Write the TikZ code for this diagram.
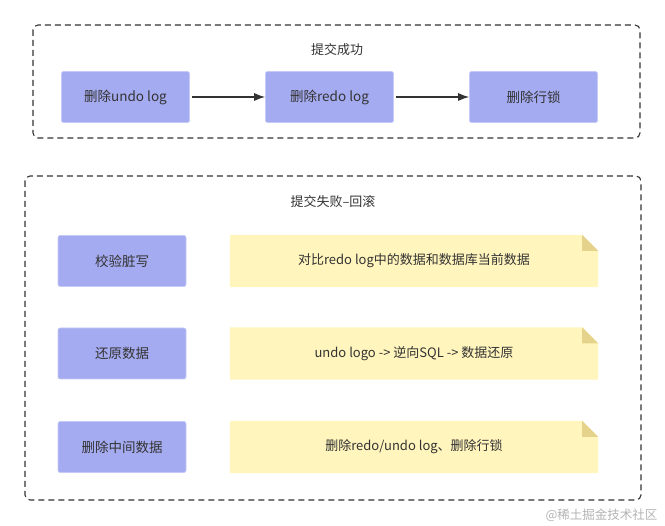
\documentclass[tikz,border=0pt]{standalone}
\usepackage{fontspec}
\setmainfont{Noto Sans CJK SC}
\usepackage{tikz}
\usetikzlibrary{arrows.meta,backgrounds}
\definecolor{lavender}{HTML}{A5ABF0}
\definecolor{lavline}{HTML}{C6CAF6}
\definecolor{paper}{HTML}{FFF5BD}
\definecolor{fold}{HTML}{E5D38C}
\definecolor{ink}{HTML}{333333}
\definecolor{mark}{HTML}{B3B3B3}

\begin{document}
\begin{tikzpicture}[x=1pt,y=-1pt,>={Latex[length=11pt,width=8pt]},
  stepbox/.style={fill=lavender,draw=lavline,line width=.6pt,
    rounded corners=2pt,minimum width=128pt,minimum height=51pt,
    inner sep=0pt,text=ink,font=\fontsize{13.5}{16}\selectfont},
  notebox/.style={minimum width=368pt,minimum height=52pt,inner sep=0pt,
    text=ink,font=\fontsize{13}{15}\selectfont},
  frame/.style={draw=ink,dash pattern=on 6pt off 4pt,line width=1.1pt,
    rounded corners=5pt},
  title/.style={text=ink,font=\fontsize{13}{15}\selectfont},
  flow/.style={->,ink,line width=1.2pt,shorten <=2pt}]
\useasboundingbox (0,0) rectangle (665,526);

% commit ok
\draw[frame] (33,25) rectangle (640,138);
\node[title] (ok) at (337,50) {提交成功};
\node[stepbox] (delundo) at (125.5,97) {删除undo log};
\node[stepbox] (delredo) at (329.5,97) {删除redo log};
\node[stepbox] (dellock) at (533.5,97) {删除行锁};
\draw[flow] (delundo) -- (delredo);
\draw[flow] (delredo) -- (dellock);

% commit failed, roll back
\draw[frame] (25,176) rectangle (641,500);
\node[title] (fail) at (333,202) {提交失败–回滚};
\node[stepbox] (check) at (122,261) {校验脏写};
\node[stepbox] (restore) at (122,353.5) {还原数据};
\node[stepbox] (clean) at (122,447) {删除中间数据};
\node[notebox] (cmp) at (414,261) {对比redo log中的数据和数据库当前数据};
\node[notebox] (undo) at (414,353.5) {undo logo -> 逆向SQL -> 数据还原};
\node[notebox] (rm) at (414,447) {删除redo/undo log、删除行锁};
\begin{scope}[on background layer]
  \foreach \n in {cmp,undo,rm}{
    \fill[paper] (\n.south west) -- (\n.north west)
      -- ([xshift=-16pt]\n.north east) -- ([yshift=-16pt]\n.north east)
      -- (\n.south east) -- cycle;
    \fill[fold] ([xshift=-16pt]\n.north east)
      -- ([xshift=-16pt,yshift=-16pt]\n.north east)
      -- ([yshift=-16pt]\n.north east) -- cycle;
  }
\end{scope}

\node[anchor=east,text=mark,font=\fontsize{12.5}{15}\selectfont] (wm)
  at (661,515) {@稀土掘金技术社区};
\end{tikzpicture}
\end{document}
